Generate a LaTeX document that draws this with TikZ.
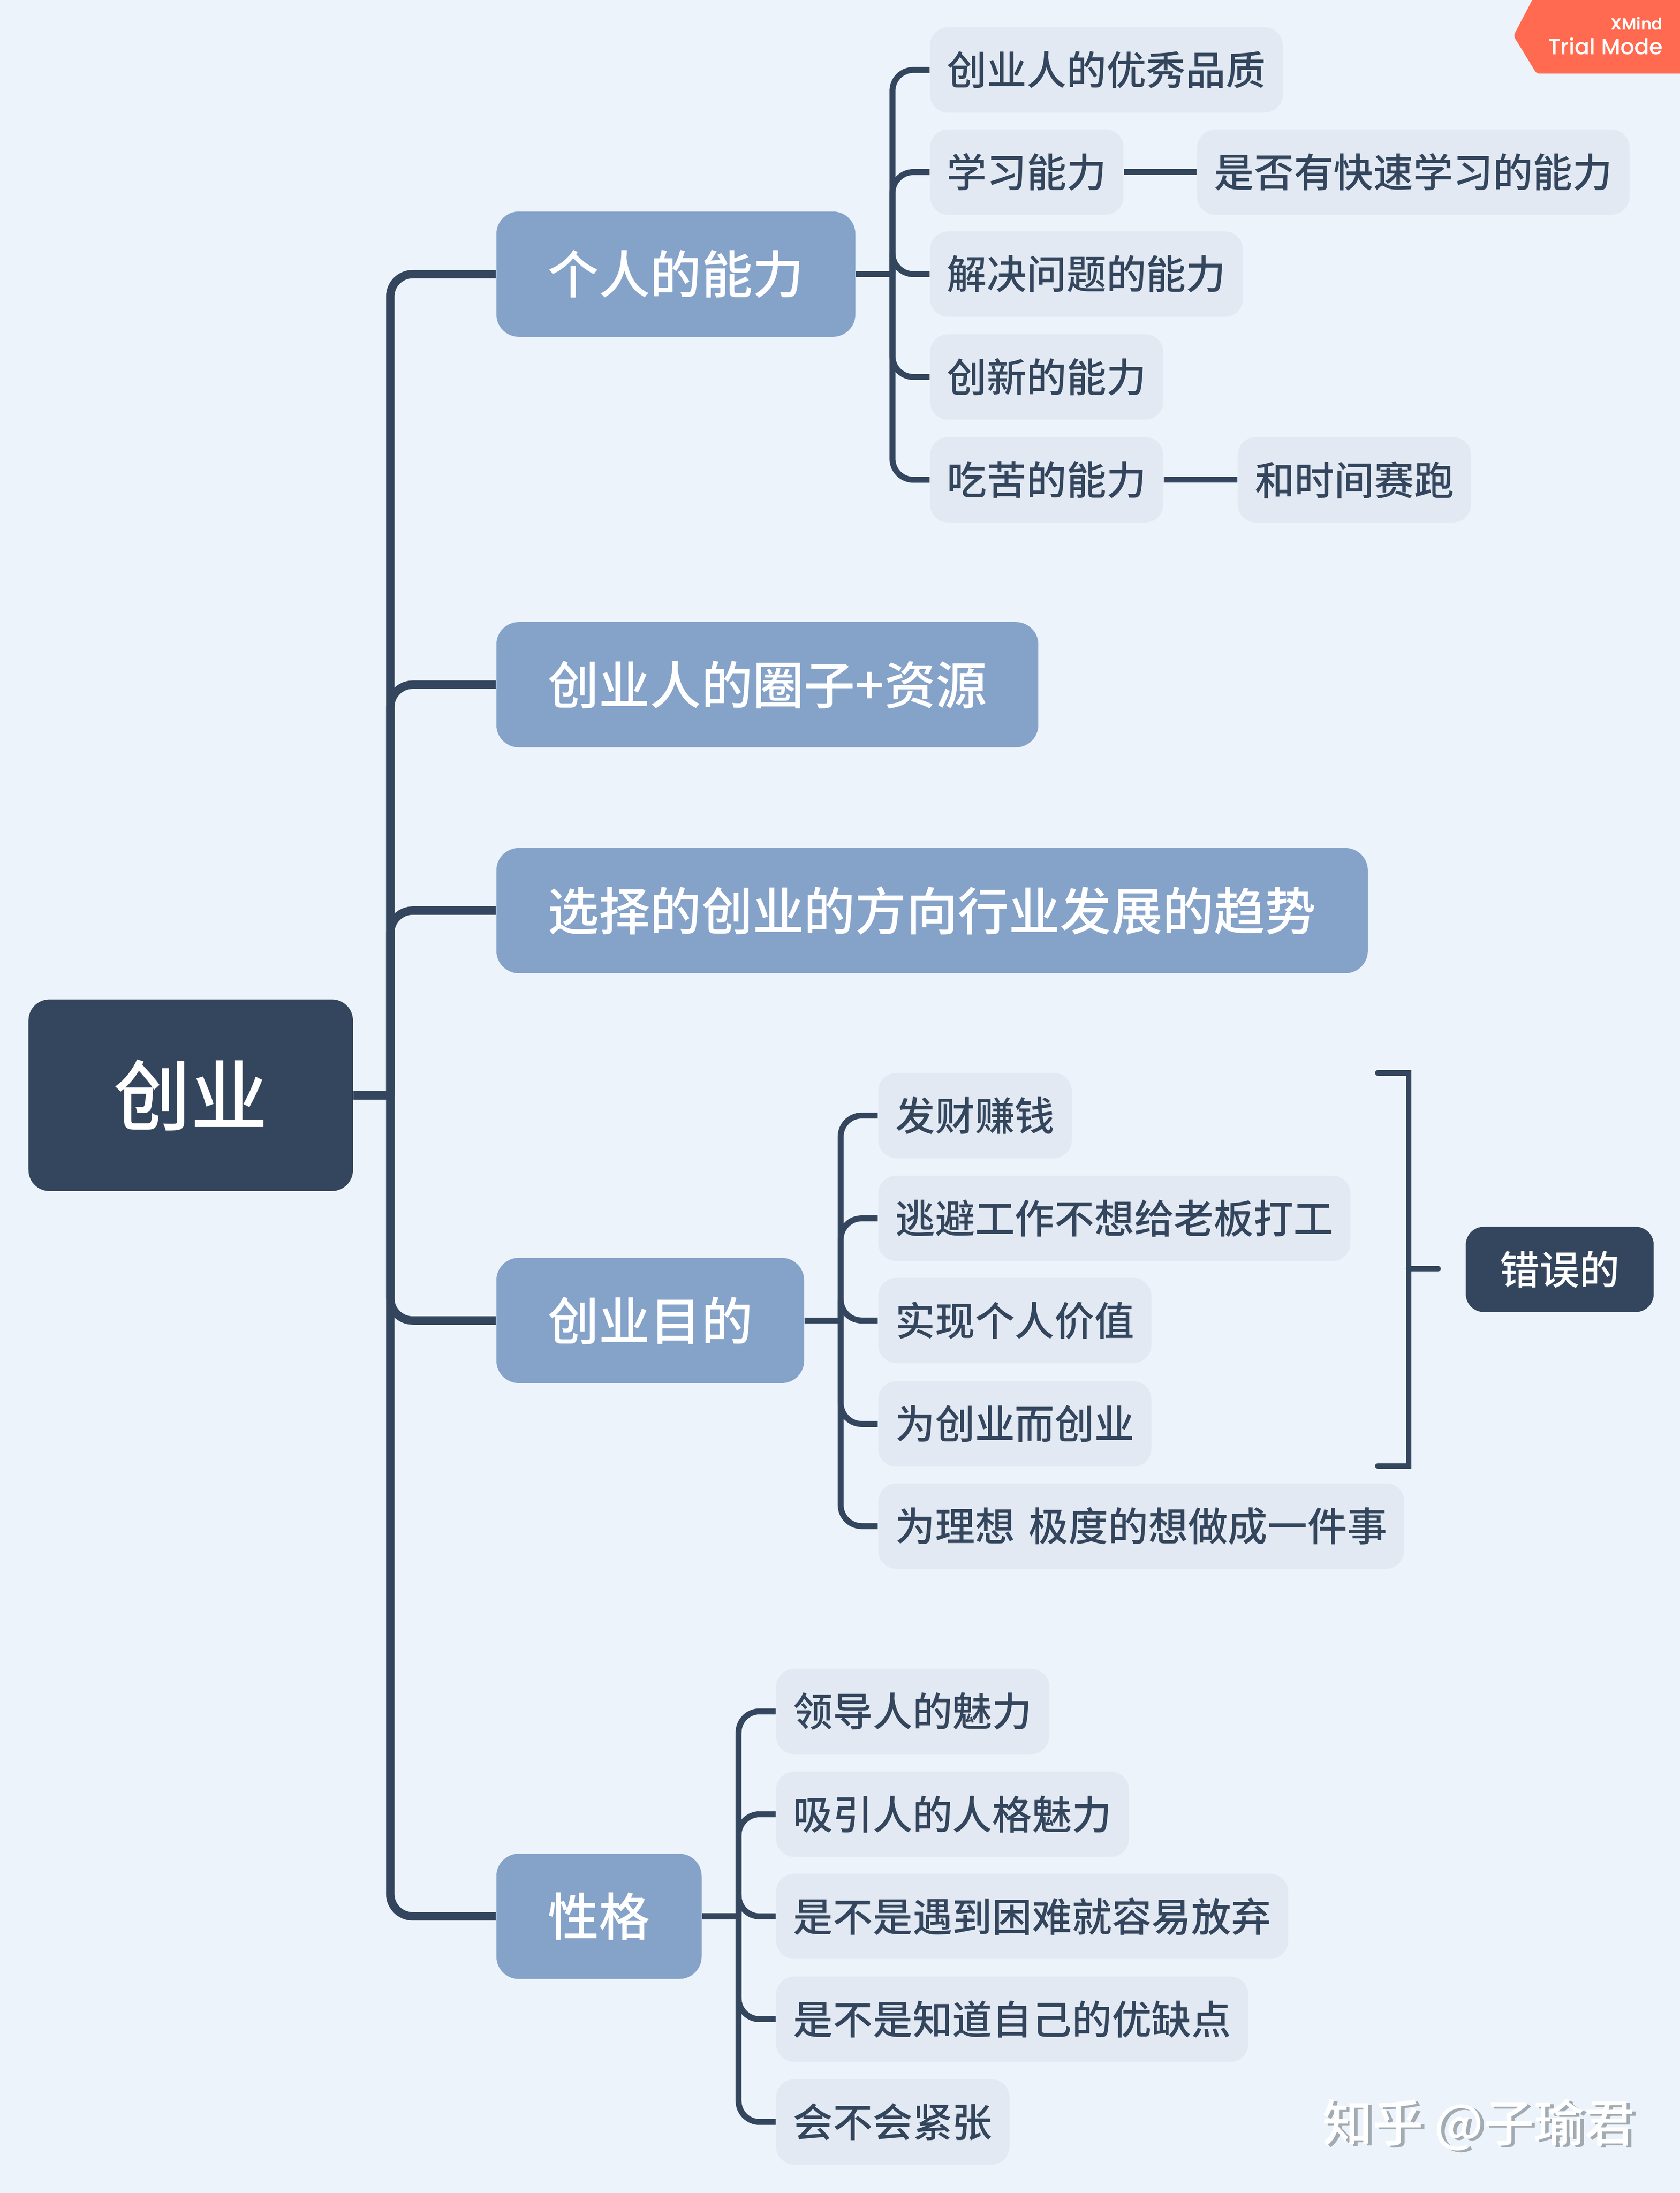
\documentclass[tikz,border=0pt]{standalone}
\usepackage{fontspec}
\setmainfont{Noto Sans CJK SC Medium}
\newfontfamily\heavyfont{Noto Sans CJK SC Medium}
\newfontfamily\badgefont{Poppins Medium}
\newfontfamily\brandfont{Poppins SemiBold}
\usetikzlibrary{positioning}

\definecolor{pagebg}{HTML}{ECF3FB}
\definecolor{slate}{HTML}{34465D}
\definecolor{steel}{HTML}{85A2C9}
\definecolor{mist}{HTML}{E2E9F2}
\definecolor{coral}{HTML}{FF6A50}
\definecolor{shade}{HTML}{A3ABB2}

\begin{document}
\begin{tikzpicture}[x=0.02cm, y=-0.02cm,
  core/.style={fill=slate, text=white, rounded corners=0.3cm, inner xsep=1.22cm, minimum height=2.74cm, font=\heavyfont\fontsize{31.3}{36}\selectfont},
  topic/.style={fill=steel, text=white, rounded corners=0.32cm, inner xsep=0.735cm, minimum height=1.79cm, anchor=west, font=\heavyfont\fontsize{20.85}{25}\selectfont},
  leaf/.style={fill=mist, text=slate, rounded corners=0.26cm, inner xsep=0.245cm, minimum height=1.22cm, anchor=west, font=\fontsize{16.2}{20}\selectfont},
  note/.style={fill=slate, text=white, rounded corners=0.26cm, inner xsep=0.49cm, minimum height=1.22cm, anchor=west, font=\fontsize{16.2}{20}\selectfont},
  trunkline/.style={draw=slate, line width=1.2mm, rounded corners=0.32cm},
  leafline/.style={draw=slate, line width=0.85mm, rounded corners=0.3cm},
  bracketline/.style={draw=slate, line width=0.8mm, line cap=round}]
% Page
\fill[pagebg] (0,0) rectangle (1201,1567.8);
\useasboundingbox (0,0) rectangle (1201,1567.8);

% Hubs
\coordinate (trunk) at (279,783);
\coordinate (abilityhub) at (638,196);
\coordinate (goalhub) at (601,944);
\coordinate (traithub) at (528,1370);

% Root and main topics
\node[core, anchor=west] (root) at (20,783) {创业};
\node[topic] (ability) at (354.5,196) {个人的能力};
\node[topic] (circle) at (354.5,489.5) {创业人的圈子+资源};
\node[topic] (direction) at (354.5,651) {选择的创业的方向行业发展的趋势};
\node[topic] (goal) at (354.5,944) {创业目的};
\node[topic] (trait) at (354.5,1370) {性格};

% Ability leaves
\node[leaf] (quality) at (664.5,50) {创业人的优秀品质};
\node[leaf] (learn) at (664.5,123) {学习能力};
\node[leaf] (learnfast) at (855.5,123) {是否有快速学习的能力};
\node[leaf] (solve) at (664.5,196) {解决问题的能力};
\node[leaf] (innovate) at (664.5,269.5) {创新的能力};
\node[leaf] (endure) at (664.5,343) {吃苦的能力};
\node[leaf] (race) at (884.5,343) {和时间赛跑};

% Goal leaves
\node[leaf] (money) at (627.5,797.5) {发财赚钱};
\node[leaf] (escape) at (627.5,871) {逃避工作不想给老板打工};
\node[leaf] (value) at (627.5,944) {实现个人价值};
\node[leaf] (forsake) at (627.5,1018) {为创业而创业};
\node[leaf] (ideal) at (627.5,1091) {为理想\hspace{0.2cm}极度的想做成一件事};

% Trait leaves
\node[leaf] (charm) at (554.5,1223.5) {领导人的魅力};
\node[leaf] (attract) at (554.5,1297) {吸引人的人格魅力};
\node[leaf] (giveup) at (554.5,1370) {是不是遇到困难就容易放弃};
\node[leaf] (know) at (554.5,1443.5) {是不是知道自己的优缺点};
\node[leaf] (nervous) at (554.5,1517) {会不会紧张};

% Connectors
\draw[trunkline] (root.east) -- (trunk);
\foreach \m in {ability,circle,direction,goal,trait}
  \draw[trunkline] (trunk) |- (\m.west);
\draw[leafline] (ability.east) -- (abilityhub);
\foreach \m in {quality,learn,solve,innovate,endure}
  \draw[leafline] (abilityhub) |- (\m.west);
\draw[leafline] (learn.east) -- (learnfast.west);
\draw[leafline] (endure.east) -- (race.west);
\draw[leafline] (goal.east) -- (goalhub);
\foreach \m in {money,escape,value,forsake,ideal}
  \draw[leafline] (goalhub) |- (\m.west);
\draw[leafline] (trait.east) -- (traithub);
\foreach \m in {charm,attract,giveup,know,nervous}
  \draw[leafline] (traithub) |- (\m.west);

% Bracket
\coordinate (brtop) at (985,767);
\coordinate (brbot) at (985,1048);
\coordinate (brmid) at (1007,907);
\coordinate (brend) at (1028,907);
\draw[bracketline] (brtop) -| (brmid) |- (brbot);
\draw[bracketline] (brmid) -- (brend);
\node[note] (wrong) at (1047.5,907.5) {错误的};

% Trial badge
\fill[coral, rounded corners=0.04cm] (1098,-5) -- (1082,25.6) -- (1098.5,52.6) -- (1210,52.6) -- (1210,-5) -- cycle;
\node[anchor=base east, inner sep=0pt, text=white, font=\brandfont\fontsize{6.6}{8}\selectfont] (xmind) at (1189,21.4) {XMind};
\node[anchor=base east, inner sep=0pt, text=white, font=\badgefont\fontsize{8.9}{11}\selectfont] (trial) at (1189,39) {Trial Mode};

% Watermark
\node[anchor=base east, inner sep=0pt, text=shade, font=\heavyfont\fontsize{20.5}{24}\selectfont] (markshade) at (1171.5,1532.5) {知乎 @子瑜君};
\node[anchor=base east, inner sep=0pt, text=white, font=\heavyfont\fontsize{20.5}{24}\selectfont] (mark) at (1169,1531) {知乎 @子瑜君};
\end{tikzpicture}
\end{document}
